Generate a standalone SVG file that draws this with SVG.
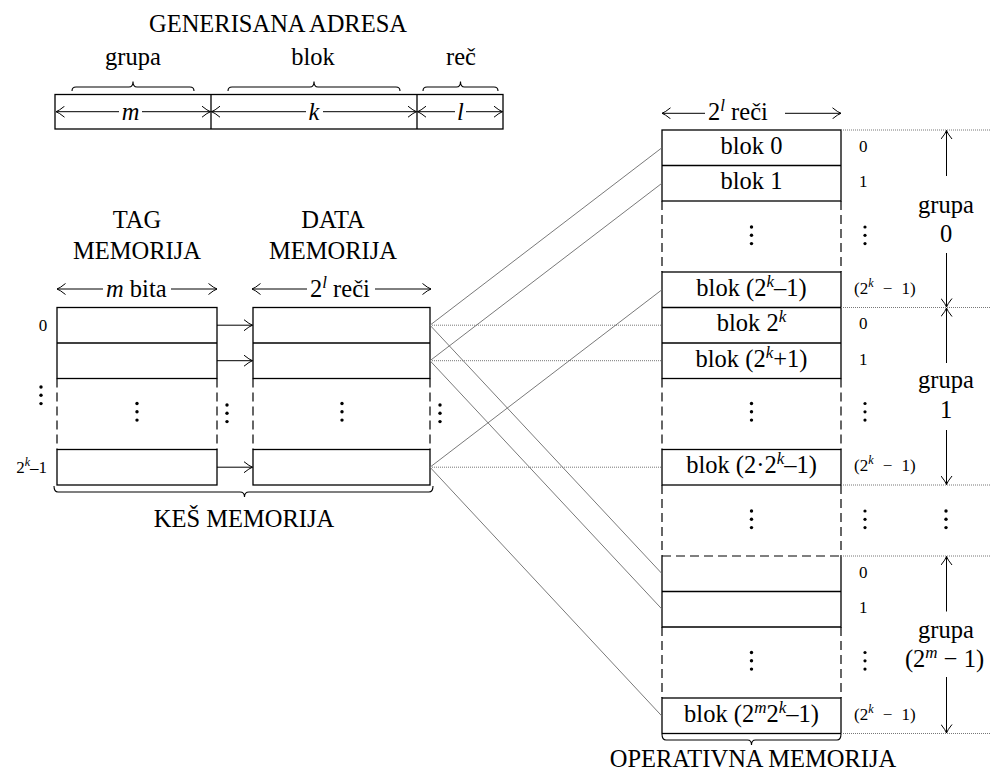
<svg xmlns="http://www.w3.org/2000/svg" width="990" height="779" viewBox="0 0 990 779" font-family="'Liberation Serif', serif">
  <defs>
    <marker id="arr" viewBox="-10 -6 11 12" refX="0" refY="0" markerWidth="11" markerHeight="12" markerUnits="userSpaceOnUse" orient="auto">
      <path d="M -8.5 -5.5 Q -3 -1 0 0 Q -3 1 -8.5 5.5" fill="none" stroke="#000" stroke-width="1"/>
    </marker>
  </defs>
  <style>
    text { font-family: 'Liberation Serif', serif; fill: #000; }
    .big { font-size: 24.5px; }
    .sm { font-size: 17px; }
    .mid { text-anchor: middle; }
    .end { text-anchor: end; }
    .it { font-style: italic; }
    .box { fill: #fff; stroke: #000; stroke-width: 1.3; }
    .ln { fill: none; stroke: #000; stroke-width: 1.3; }
    .dash { fill: none; stroke: #000; stroke-width: 1.2; stroke-dasharray: 9 5; }
    .dim { fill: none; stroke: #000; stroke-width: 1; marker-end: url(#arr); }
    .brace { fill: none; stroke: #000; stroke-width: 1.1; }
    .diag { fill: none; stroke: #6a6a6a; stroke-width: 0.9; }
    .dot { fill: none; stroke: #777; stroke-width: 1; stroke-dasharray: 1 1; }
    .vd { fill: #000; }
  </style>

  <!-- generated address: group | block | word -->
  <g id="address">
    <text class="big mid" x="278" y="32">GENERISANA ADRESA</text>
    <text class="big mid" x="133" y="65">grupa</text>
    <text class="big mid" x="313" y="65">blok</text>
    <text class="big mid" x="461" y="65">reč</text>
    <path class="brace" d="M72 91 Q72 87 76 87 L129 87 Q133 87 133 81.5 Q133 87 137 87 L190 87 Q194 87 194 91"/>
    <path class="brace" d="M228 91 Q228 87 232 87 L310 87 Q314 87 314 81.5 Q314 87 318 87 L396 87 Q400 87 400 91"/>
    <path class="brace" d="M423 91 Q423 87 427 87 L456.5 87 Q460.5 87 460.5 81.5 Q460.5 87 464.5 87 L494 87 Q498 87 498 91"/>
    <rect class="box" x="55" y="94.5" width="448" height="34.5"/>
    <line class="ln" x1="211" y1="94.5" x2="211" y2="129"/>
    <line class="ln" x1="417" y1="94.5" x2="417" y2="129"/>
    <line class="dim" x1="119" y1="111.7" x2="56" y2="111.7"/>
    <line class="dim" x1="142" y1="111.7" x2="210.5" y2="111.7"/>
    <text class="big mid it" x="130.5" y="119.5">m</text>
    <line class="dim" x1="306" y1="111.7" x2="211.5" y2="111.7"/>
    <line class="dim" x1="323" y1="111.7" x2="416.5" y2="111.7"/>
    <text class="big mid it" x="314" y="119.5">k</text>
    <line class="dim" x1="455" y1="111.7" x2="417.5" y2="111.7"/>
    <line class="dim" x1="466" y1="111.7" x2="502.5" y2="111.7"/>
    <text class="big mid it" x="460.5" y="119.5">l</text>
  </g>

  <!-- tag memory -->
  <g id="tag-memory">
    <text class="big mid" x="137" y="228">TAG</text>
    <text class="big mid" x="137" y="259">MEMORIJA</text>
    <line class="dim" x1="103" y1="289" x2="57" y2="289"/>
    <line class="dim" x1="171" y1="289" x2="217" y2="289"/>
    <text class="big" x="106" y="296.5"><tspan class="it">m</tspan> bita</text>
    <rect class="box" x="57" y="307.5" width="160" height="71"/>
    <line class="ln" x1="57" y1="343" x2="217" y2="343"/>
    <line class="dash" x1="57" y1="378.5" x2="57" y2="449.5"/>
    <line class="dash" x1="217" y1="378.5" x2="217" y2="449.5"/>
    <rect class="box" x="57" y="449.5" width="160" height="35.5"/>
    <circle class="vd" cx="137" cy="403.5" r="1.7"/>
    <circle class="vd" cx="137" cy="411.8" r="1.7"/>
    <circle class="vd" cx="137" cy="420.1" r="1.7"/>
    <text class="sm mid" x="43" y="331">0</text>
    <circle class="vd" cx="41" cy="387" r="1.7"/>
    <circle class="vd" cx="41" cy="395.3" r="1.7"/>
    <circle class="vd" cx="41" cy="403.6" r="1.7"/>
    <text class="sm end" x="47" y="473">2<tspan class="it" font-size="12" dy="-7">k</tspan><tspan dy="7">–1</tspan></text>
  </g>

  <!-- data memory -->
  <g id="data-memory">
    <text class="big mid" x="333" y="228">DATA</text>
    <text class="big mid" x="333" y="259">MEMORIJA</text>
    <line class="dim" x1="307" y1="289" x2="252" y2="289"/>
    <line class="dim" x1="375" y1="289" x2="431" y2="289"/>
    <text class="big" x="310" y="296.5">2<tspan class="it" font-size="17" dy="-9">l</tspan><tspan dy="9"> reči</tspan></text>
    <rect class="box" x="253" y="307.5" width="177" height="71"/>
    <line class="ln" x1="253" y1="343" x2="430" y2="343"/>
    <line class="dash" x1="253" y1="378.5" x2="253" y2="449.5"/>
    <line class="dash" x1="430" y1="378.5" x2="430" y2="449.5"/>
    <rect class="box" x="253" y="449.5" width="177" height="35.5"/>
    <circle class="vd" cx="342" cy="403.5" r="1.7"/>
    <circle class="vd" cx="342" cy="411.8" r="1.7"/>
    <circle class="vd" cx="342" cy="420.1" r="1.7"/>
    <circle class="vd" cx="227" cy="405" r="1.7"/>
    <circle class="vd" cx="227" cy="413.3" r="1.7"/>
    <circle class="vd" cx="227" cy="421.6" r="1.7"/>
    <circle class="vd" cx="440" cy="405" r="1.7"/>
    <circle class="vd" cx="440" cy="413.3" r="1.7"/>
    <circle class="vd" cx="440" cy="421.6" r="1.7"/>
  </g>

  <!-- cache label -->
  <g id="cache">
    <path class="brace" d="M54 486 Q54 492 58 492 L240 492 Q244.5 492 244.5 497 Q244.5 492 249 492 L429 492 Q433 492 433 486"/>
    <text class="big mid" x="244" y="527">KEŠ MEMORIJA</text>
  </g>

  <!-- main memory -->
  <g id="main-memory">
    <line class="dim" x1="705" y1="113.3" x2="662" y2="113.3"/>
    <line class="dim" x1="785" y1="113.3" x2="841" y2="113.3"/>
    <text class="big" x="708" y="120">2<tspan class="it" font-size="17" dy="-9">l</tspan><tspan dy="9"> reči</tspan></text>

    <!-- group 0 -->
    <rect class="box" x="662" y="130" width="179" height="71"/>
    <line class="ln" x1="662" y1="165.5" x2="841" y2="165.5"/>
    <line class="dash" x1="662" y1="201" x2="662" y2="272"/>
    <line class="dash" x1="841" y1="201" x2="841" y2="272"/>
    <!-- last block of group 0 and first blocks of group 1 -->
    <rect class="box" x="662" y="272" width="179" height="106.5"/>
    <line class="ln" x1="662" y1="307.5" x2="841" y2="307.5"/>
    <line class="ln" x1="662" y1="343" x2="841" y2="343"/>
    <line class="dash" x1="662" y1="378.5" x2="662" y2="449.5"/>
    <line class="dash" x1="841" y1="378.5" x2="841" y2="449.5"/>
    <rect class="box" x="662" y="449.5" width="179" height="35.5"/>
    <!-- intermediate groups -->
    <line class="dash" x1="662" y1="485" x2="662" y2="556"/>
    <line class="dash" x1="841" y1="485" x2="841" y2="556"/>
    <line class="dash" x1="662" y1="556" x2="841" y2="556"/>
    <!-- last group -->
    <path class="ln" d="M662 556 V627 H841 V556"/>
    <line class="ln" x1="662" y1="591.5" x2="841" y2="591.5"/>
    <line class="dash" x1="662" y1="627" x2="662" y2="698"/>
    <line class="dash" x1="841" y1="627" x2="841" y2="698"/>
    <rect class="box" x="662" y="698" width="179" height="35.5"/>

    <text class="big mid" x="751.5" y="153.5">blok 0</text>
    <text class="big mid" x="751.5" y="189">blok 1</text>
    <text class="big mid" x="751.5" y="295.5">blok (2<tspan class="it" font-size="17" dy="-9">k</tspan><tspan dy="9">–1)</tspan></text>
    <text class="big mid" x="751.5" y="331">blok 2<tspan class="it" font-size="17" dy="-9">k</tspan></text>
    <text class="big mid" x="751.5" y="366.5">blok (2<tspan class="it" font-size="17" dy="-9">k</tspan><tspan dy="9">+1)</tspan></text>
    <text class="big mid" x="751.5" y="473">blok (2·2<tspan class="it" font-size="17" dy="-9">k</tspan><tspan dy="9">–1)</tspan></text>
    <text class="big mid" x="751.5" y="721.5">blok (2<tspan class="it" font-size="17" dy="-9">m</tspan><tspan dy="9">2</tspan><tspan class="it" font-size="17" dy="-9">k</tspan><tspan dy="9">–1)</tspan></text>

    <circle class="vd" cx="751.5" cy="227" r="1.7"/>
    <circle class="vd" cx="751.5" cy="235.3" r="1.7"/>
    <circle class="vd" cx="751.5" cy="243.6" r="1.7"/>
    <circle class="vd" cx="751.5" cy="403.5" r="1.7"/>
    <circle class="vd" cx="751.5" cy="411.8" r="1.7"/>
    <circle class="vd" cx="751.5" cy="420.1" r="1.7"/>
    <circle class="vd" cx="751.5" cy="511" r="1.7"/>
    <circle class="vd" cx="751.5" cy="519.3" r="1.7"/>
    <circle class="vd" cx="751.5" cy="527.6" r="1.7"/>
    <circle class="vd" cx="751.5" cy="652.5" r="1.7"/>
    <circle class="vd" cx="751.5" cy="660.8" r="1.7"/>
    <circle class="vd" cx="751.5" cy="669.1" r="1.7"/>
  </g>

  <!-- offsets of the blocks inside each group -->
  <g id="offsets">
    <text class="sm" x="859" y="151.5">0</text>
    <text class="sm" x="859" y="187">1</text>
    <text class="sm" x="854" y="293.5" word-spacing="5">(2<tspan class="it" font-size="12" dy="-7">k</tspan><tspan dy="7"> − 1)</tspan></text>
    <text class="sm" x="859" y="329">0</text>
    <text class="sm" x="859" y="364.5">1</text>
    <text class="sm" x="854" y="470.5" word-spacing="5">(2<tspan class="it" font-size="12" dy="-7">k</tspan><tspan dy="7"> − 1)</tspan></text>
    <text class="sm" x="859" y="577.5">0</text>
    <text class="sm" x="859" y="613">1</text>
    <text class="sm" x="854" y="719.5" word-spacing="5">(2<tspan class="it" font-size="12" dy="-7">k</tspan><tspan dy="7"> − 1)</tspan></text>
    <circle class="vd" cx="865" cy="227" r="1.6"/>
    <circle class="vd" cx="865" cy="235.3" r="1.6"/>
    <circle class="vd" cx="865" cy="243.6" r="1.6"/>
    <circle class="vd" cx="865" cy="403.5" r="1.6"/>
    <circle class="vd" cx="865" cy="411.8" r="1.6"/>
    <circle class="vd" cx="865" cy="420.1" r="1.6"/>
    <circle class="vd" cx="865" cy="511" r="1.6"/>
    <circle class="vd" cx="865" cy="519.3" r="1.6"/>
    <circle class="vd" cx="865" cy="527.6" r="1.6"/>
    <circle class="vd" cx="865" cy="652.5" r="1.6"/>
    <circle class="vd" cx="865" cy="660.8" r="1.6"/>
    <circle class="vd" cx="865" cy="669.1" r="1.6"/>
  </g>

  <!-- group extents -->
  <g id="groups">
    <line class="dot" x1="841" y1="130" x2="990" y2="130"/>
    <line class="dot" x1="841" y1="307.5" x2="990" y2="307.5"/>
    <line class="dot" x1="841" y1="485" x2="990" y2="485"/>
    <line class="dot" x1="841" y1="556" x2="990" y2="556"/>
    <line class="dot" x1="841" y1="733.5" x2="990" y2="733.5"/>

    <line class="dim" x1="946.5" y1="176" x2="946.5" y2="130.5"/>
    <line class="dim" x1="946.5" y1="253" x2="946.5" y2="307"/>
    <text class="big mid" x="946" y="213">grupa</text>
    <text class="big mid" x="946" y="241.5">0</text>

    <line class="dim" x1="946.5" y1="363" x2="946.5" y2="308"/>
    <line class="dim" x1="946.5" y1="430" x2="946.5" y2="484.5"/>
    <text class="big mid" x="946" y="388">grupa</text>
    <text class="big mid" x="946" y="418">1</text>

    <circle class="vd" cx="946" cy="511" r="1.7"/>
    <circle class="vd" cx="946" cy="519.3" r="1.7"/>
    <circle class="vd" cx="946" cy="527.6" r="1.7"/>

    <line class="dim" x1="946.5" y1="611.5" x2="946.5" y2="556.5"/>
    <line class="dim" x1="946.5" y1="677" x2="946.5" y2="733"/>
    <text class="big mid" x="946" y="638">grupa</text>
    <text class="big mid" x="944.5" y="666.5">(2<tspan class="it" font-size="17" dy="-9">m</tspan><tspan dy="9"> − 1)</tspan></text>

    <path class="brace" d="M662 734 Q662 740 666 740 L747.5 740 Q751.5 740 751.5 745 Q751.5 740 755.5 740 L837 740 Q841 740 841 734"/>
    <text class="big mid" x="753" y="767">OPERATIVNA MEMORIJA</text>
  </g>

  <!-- connectors -->
  <g id="connectors">
    <line class="dim" x1="217" y1="325.2" x2="252.5" y2="325.2"/>
    <line class="dim" x1="217" y1="360.7" x2="252.5" y2="360.7"/>
    <line class="dim" x1="217" y1="467.2" x2="252.5" y2="467.2"/>

    <line class="dot" x1="430" y1="325.2" x2="662" y2="325.2"/>
    <line class="dot" x1="430" y1="360.7" x2="662" y2="360.7"/>
    <line class="dot" x1="430" y1="467.2" x2="662" y2="467.2"/>

    <line class="diag" x1="430" y1="325.2" x2="662" y2="147.7"/>
    <line class="diag" x1="430" y1="360.7" x2="662" y2="183.2"/>
    <line class="diag" x1="430" y1="467.2" x2="662" y2="289.7"/>
    <line class="diag" x1="430" y1="325.2" x2="662" y2="573.7"/>
    <line class="diag" x1="430" y1="360.7" x2="662" y2="609.2"/>
    <line class="diag" x1="430" y1="467.2" x2="662" y2="716.2"/>
  </g>
</svg>
